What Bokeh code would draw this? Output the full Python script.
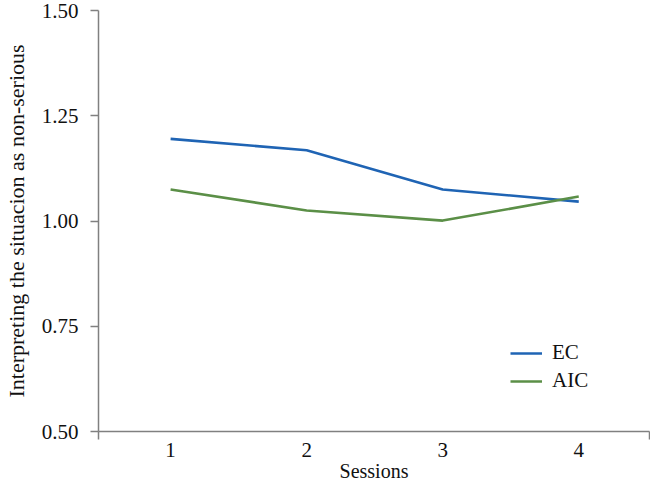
from bokeh.plotting import figure
from bokeh.models import FixedTicker, Range1d, Legend, LegendItem, CustomJSTickFormatter
from bokeh.embed import file_html
from bokeh.resources import INLINE

sessions = [1, 2, 3, 4]
ec = [1.195, 1.168, 1.075, 1.046]
aic = [1.075, 1.025, 1.001, 1.058]
y_ticks = [0.50, 0.75, 1.00, 1.25, 1.50]

FONT = "Liberation Serif"
AXIS_COLOR = "#808080"
X_LO, X_HI = 0.47, 4.52

p = figure(width=650, height=484, output_backend="svg", toolbar_location=None,
           x_range=Range1d(X_LO, X_HI), y_range=Range1d(0.5, 1.5),
           min_border_left=98, min_border_right=1, min_border_top=10, min_border_bottom=40)
p.outline_line_color = None
p.xgrid.visible = False
p.ygrid.visible = False
p.background_fill_color = "white"

r1 = p.line(sessions, ec, line_color="#1f64b4", line_width=2.6)
r2 = p.line(sessions, aic, line_color="#5b8f47", line_width=2.6)

# y axis
ya = p.yaxis[0]
ya.ticker = FixedTicker(ticks=y_ticks, minor_ticks=[])
ya.formatter = CustomJSTickFormatter(code="return tick.toFixed(2);")
ya.axis_label = "Interpreting the situacion as non-serious"
ya.axis_label_text_font = FONT
ya.axis_label_text_font_style = "normal"
ya.axis_label_text_font_size = "22px"
ya.axis_label_text_color = "#111111"
ya.axis_label_standoff = 10
ya.major_label_text_font = FONT
ya.major_label_text_font_size = "21px"
ya.major_label_text_color = "#111111"
ya.major_label_standoff = 12
ya.major_tick_out = 8
ya.major_tick_in = 0
ya.minor_tick_out = 0
ya.minor_tick_in = 0
ya.axis_line_color = AXIS_COLOR
ya.major_tick_line_color = AXIS_COLOR
ya.axis_line_width = 1.5
ya.major_tick_line_width = 1.5

# x axis
xa = p.xaxis[0]
xa.ticker = FixedTicker(ticks=sessions, minor_ticks=[X_LO, X_HI])
xa.axis_label = "Sessions"
xa.axis_label_text_font = FONT
xa.axis_label_text_font_style = "normal"
xa.axis_label_text_font_size = "20px"
xa.axis_label_text_color = "#111111"
xa.axis_label_standoff = 0
xa.major_label_text_font = FONT
xa.major_label_text_font_size = "21px"
xa.major_label_text_color = "#111111"
xa.major_label_standoff = 3
xa.major_tick_out = 0
xa.major_tick_in = 0
xa.minor_tick_out = 8
xa.minor_tick_in = 0
xa.axis_line_color = AXIS_COLOR
xa.minor_tick_line_color = AXIS_COLOR
xa.axis_line_width = 1.5
xa.minor_tick_line_width = 1.5

legend = Legend(items=[LegendItem(label="EC", renderers=[r1]),
                       LegendItem(label="AIC", renderers=[r2])],
                location=(412, 38))
legend.background_fill_alpha = 0
legend.border_line_color = None
legend.label_text_font = FONT
legend.label_text_font_size = "21px"
legend.label_text_color = "#111111"
legend.glyph_width = 32
legend.glyph_height = 22
legend.spacing = 3
legend.label_standoff = 10
legend.padding = 4
legend.margin = 0
p.add_layout(legend, "center")

open("out.html", "w").write(file_html(p, INLINE))
